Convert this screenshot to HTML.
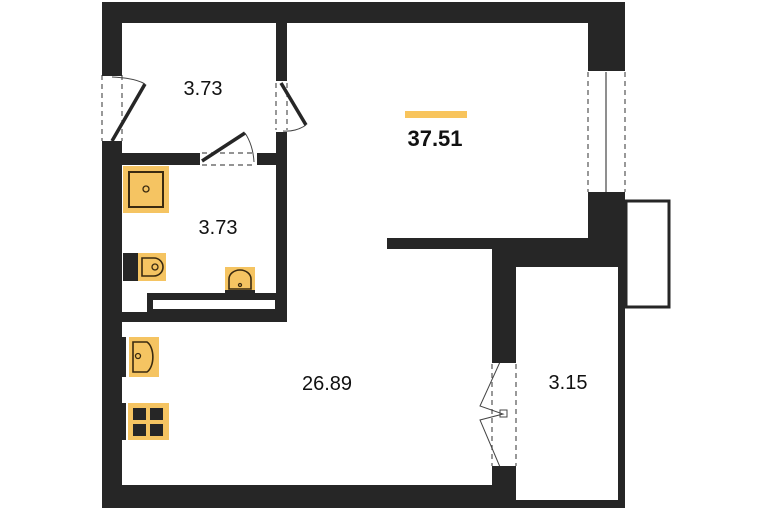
<!DOCTYPE html>
<html><head><style>
html,body{margin:0;padding:0;background:#fff;}
</style></head><body>
<svg width="770" height="510" viewBox="0 0 770 510" xmlns="http://www.w3.org/2000/svg" font-family="Liberation Sans, sans-serif">
<g fill="#262626">
<!-- top wall -->
<rect x="102" y="2" width="523" height="21"/>
<!-- left wall -->
<rect x="102" y="2" width="20" height="71"/>
<rect x="102" y="143" width="20" height="365"/>
<!-- partition hall/main -->
<rect x="276" y="2" width="11" height="79"/>
<rect x="276" y="132" width="11" height="190"/>
<!-- hall/bath wall -->
<rect x="122" y="153" width="78" height="12"/>
<rect x="257" y="153" width="19" height="12"/>
<!-- bath bottom -->
<rect x="122" y="312" width="165" height="10"/>
<rect x="147" y="293" width="140" height="19"/>
<!-- right wall top -->
<rect x="588" y="2" width="37" height="68"/>
<rect x="588" y="193" width="37" height="74"/>
<!-- horizontal partition -->
<rect x="387" y="238" width="201" height="11"/>
<rect x="492" y="238" width="133" height="29"/>
<!-- vertical -->
<rect x="492" y="249" width="24" height="113"/>
<rect x="492" y="467" width="24" height="41"/>
<!-- bottom -->
<rect x="102" y="485" width="414" height="23"/>
<rect x="618" y="267" width="7" height="241"/>
<rect x="516" y="500" width="109" height="8"/>
</g>
<rect x="153" y="300" width="122" height="9" fill="#fff"/>
<!-- balcony -->
<rect x="626" y="201" width="43" height="106" fill="none" stroke="#262626" stroke-width="3"/>
<!-- right window -->
<g stroke="#555" fill="none" stroke-width="1.2" stroke-dasharray="5,4">
<line x1="588" y1="72" x2="588" y2="192"/><line x1="625" y1="72" x2="625" y2="192"/>
<line x1="102" y1="75" x2="102" y2="141"/><line x1="122" y1="75" x2="122" y2="141"/>
<line x1="276" y1="83" x2="276" y2="130"/><line x1="287" y1="83" x2="287" y2="130"/>
<line x1="202" y1="153" x2="255" y2="153"/><line x1="202" y1="165" x2="255" y2="165"/>
<line x1="492" y1="364" x2="492" y2="466"/><line x1="516" y1="364" x2="516" y2="466"/>
</g>
<line x1="606" y1="72" x2="606" y2="192" stroke="#444" stroke-width="1.2"/>
<rect x="588" y="68" width="37" height="3" fill="#262626"/>
<rect x="588" y="192" width="37" height="3" fill="#262626"/>
<!-- doors -->
<g stroke="#262626" stroke-width="3.5" fill="none">
<line x1="112" y1="141" x2="145" y2="84"/>
<line x1="281" y1="83" x2="306" y2="125"/>
<line x1="202" y1="161" x2="245" y2="133"/>
</g>
<g stroke="#444" stroke-width="1" fill="none">
<path d="M112 77 Q135 78 145 84"/>
<path d="M306 125 Q296 132 283 131"/>
<path d="M245 133 Q253 145 254 162"/>
<polyline points="500,362 480,406 503,414 480,420 500,467"/>
<rect x="500" y="410" width="7" height="7"/>
</g>
<rect x="102" y="73" width="20" height="3" fill="#262626"/>
<rect x="102" y="141" width="20" height="3" fill="#262626"/>
<rect x="492" y="360" width="24" height="3" fill="#262626"/>
<rect x="492" y="466" width="24" height="3" fill="#262626"/>
<!-- fixtures -->
<g fill="#F5C462" stroke="#3a2a10" stroke-width="1.3">
<rect x="123" y="166" width="46" height="47" stroke="none"/>
<rect x="129" y="172" width="34" height="35" fill="none" stroke-width="2"/>
<circle cx="146" cy="189" r="3" fill="none"/>
<rect x="138" y="253" width="28" height="28" stroke="none"/>
<path d="M142 258 h12 a9 9 0 0 1 0 18 h-12 z" fill="none" stroke-width="1.6"/>
<circle cx="155" cy="267" r="3" fill="none"/>
<rect x="225" y="267" width="30" height="26" stroke="none"/>
<path d="M229 289 v-10 a11 9 0 0 1 22 0 v10 z" fill="none" stroke-width="1.6"/>
<circle cx="240" cy="285" r="1.5" fill="none"/>
<rect x="129" y="337" width="30" height="40" stroke="none"/>
<path d="M133 342 h14 a9 16 0 0 1 0 30 h-14 z" fill="none" stroke-width="1.6"/>
<circle cx="138" cy="356" r="2.5" fill="none"/>
<rect x="128" y="403" width="41" height="37" stroke="none"/>
</g>
<rect x="123" y="253" width="15" height="28" fill="#262626"/>
<rect x="225" y="290" width="30" height="3" fill="#262626"/>
<rect x="122" y="337" width="4" height="40" fill="#262626"/>
<rect x="122" y="403" width="4" height="37" fill="#262626"/>
<g fill="#262626">
<rect x="133" y="408" width="13" height="12"/><rect x="150" y="408" width="13" height="12"/>
<rect x="133" y="424" width="13" height="12"/><rect x="150" y="424" width="13" height="12"/>
</g>
<rect x="405" y="111" width="62" height="7" fill="#F8C45C"/>
<g fill="#111" font-size="20">
<text x="203" y="95" text-anchor="middle">3.73</text>
<text x="218" y="234" text-anchor="middle">3.73</text>
<text x="327" y="390" text-anchor="middle">26.89</text>
<text x="568" y="389" text-anchor="middle">3.15</text>
<text x="435" y="146" text-anchor="middle" font-weight="bold" font-size="22">37.51</text>
</g>
</svg>
</body></html>
